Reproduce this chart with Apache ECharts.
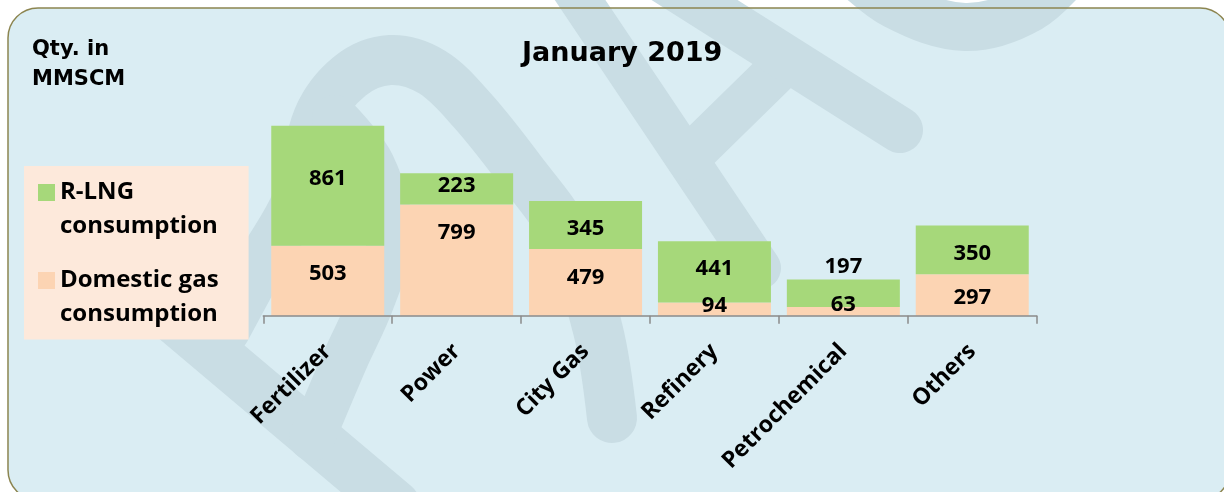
<!DOCTYPE html>
<html><head><meta charset="utf-8">
<script src="https://cdn.jsdelivr.net/npm/echarts@6/dist/echarts.min.js"></script>
<style>html,body{margin:0;padding:0;background:#fff}#c{width:1224px;height:492px}</style>
</head><body><div id="c"></div>
<script>
// ---- data ----
const categories = ['Fertilizer', 'Power', 'City Gas', 'Refinery', 'Petrochemical', 'Others'];
const domesticGas = [503, 799, 479, 94, 63, 297];
const rlng = [861, 223, 345, 441, 197, 350];
const legendNames = ['R-LNG consumption', 'Domestic gas consumption'];
const legendLabels = {'R-LNG consumption': 'R-LNG\nconsumption', 'Domestic gas consumption': 'Domestic gas\nconsumption'};

// label vertical shifts (style only)
const domShift = [-7, -27, -5, -3, -7, 3];
const lngShift = [-7, -3, 4, -3, -26, 4];

const GREEN = '#a6d87a', PEACH = '#fcd4b3';
const WM = '#c9dde4';
const labelFont = {fontFamily: 'Open Sans', fontWeight: 'bold', fontSize: 22, color: '#000'};

function mk(vals, shifts) {
  return vals.map((v, i) => ({value: v, label: {offset: [0, shifts[i]]}}));
}
function wmLine(points, w) {
  return {type: 'polyline', z: -1, silent: true, shape: {points: points, smooth: 0.35},
    style: {stroke: WM, lineWidth: w, lineCap: 'round', lineJoin: 'round', fill: null}};
}

const chart = echarts.init(document.getElementById('c'), null, {renderer: 'canvas'});
chart.setOption({
  backgroundColor: '#ffffff',
  animation: false,
  graphic: [
    {type: 'rect', z: -2, silent: true, shape: {x: 8, y: 8, width: 1222, height: 492, r: 30}, style: {fill: '#daedf3'}},
    wmLine([[225, 330], [262, 262], [297, 200], [318, 118], [350, 76], [390, 60], [432, 72], [472, 110], [520, 170], [566, 235], [598, 330], [612, 418]], 50),
    wmLine([[140, 290], [395, 505]], 50),
    wmLine([[335, 118], [372, 165], [390, 235], [372, 300], [345, 360], [312, 438]], 46),
    wmLine([[570, -15], [760, 268]], 42),
    wmLine([[688, 158], [786, 62]], 44),
    wmLine([[655, -25], [900, 130]], 46),
    wmLine([[845, -35], [895, 5], [965, 27], [1030, 8], [1075, -35]], 48),
    {type: 'rect', z: -1, silent: true, shape: {x: 8, y: 8, width: 1222, height: 492, r: 30}, style: {fill: null, stroke: '#8c8550', lineWidth: 1.5}}
  ],
  title: [
    {text: 'January 2019', left: 522, top: 40.5, padding: 0,
     textStyle: {fontFamily: 'DejaVu Sans', fontWeight: 'bold', fontSize: 27, color: '#000'}},
    {text: 'Qty. in\nMMSCM', left: 32, top: 35, padding: 0,
     textStyle: {fontFamily: 'DejaVu Sans', fontWeight: 'bold', fontSize: 21, lineHeight: 30, color: '#000'}}
  ],
  legend: {
    data: legendNames.map(n => ({name: n, icon: 'path://M0 0H17V17H0Z M0 51H0.001V51.001Z'})),
    orient: 'vertical', left: 24, top: 166,
    padding: [9.5, 30, 8, 14],
    backgroundColor: '#fde9db',
    itemWidth: 17, itemHeight: 51, itemGap: 20,
    selectedMode: false,
    formatter: n => legendLabels[n],
    textStyle: {fontFamily: 'Open Sans', fontWeight: 'bold', fontSize: 24, lineHeight: 34, color: '#000'}
  },
  grid: {left: 263.3, right: 187.3, top: 92.8, bottom: 176.3, containLabel: false},
  xAxis: {
    type: 'category', data: categories, z: 5,
    axisLine: {lineStyle: {color: '#8a8a8a', width: 1.5}},
    axisTick: {show: true, length: 8, interval: 0, lineStyle: {color: '#8a8a8a', width: 1.5}},
    axisLabel: {interval: 0, rotate: 45, margin: 32, fontFamily: 'Open Sans', fontWeight: 'bold', fontSize: 23, color: '#000'}
  },
  yAxis: {type: 'value', min: 0, max: 1600, show: false, splitLine: {show: false}},
  series: [
    {name: 'Domestic gas consumption', type: 'bar', stack: 'total', barWidth: 113,
     itemStyle: {color: PEACH},
     label: Object.assign({show: true, position: 'inside'}, labelFont),
     data: mk(domesticGas, domShift)},
    {name: 'R-LNG consumption', type: 'bar', stack: 'total', barWidth: 113,
     itemStyle: {color: GREEN},
     label: Object.assign({show: true, position: 'inside'}, labelFont),
     data: mk(rlng, lngShift)}
  ]
});
</script></body></html>
